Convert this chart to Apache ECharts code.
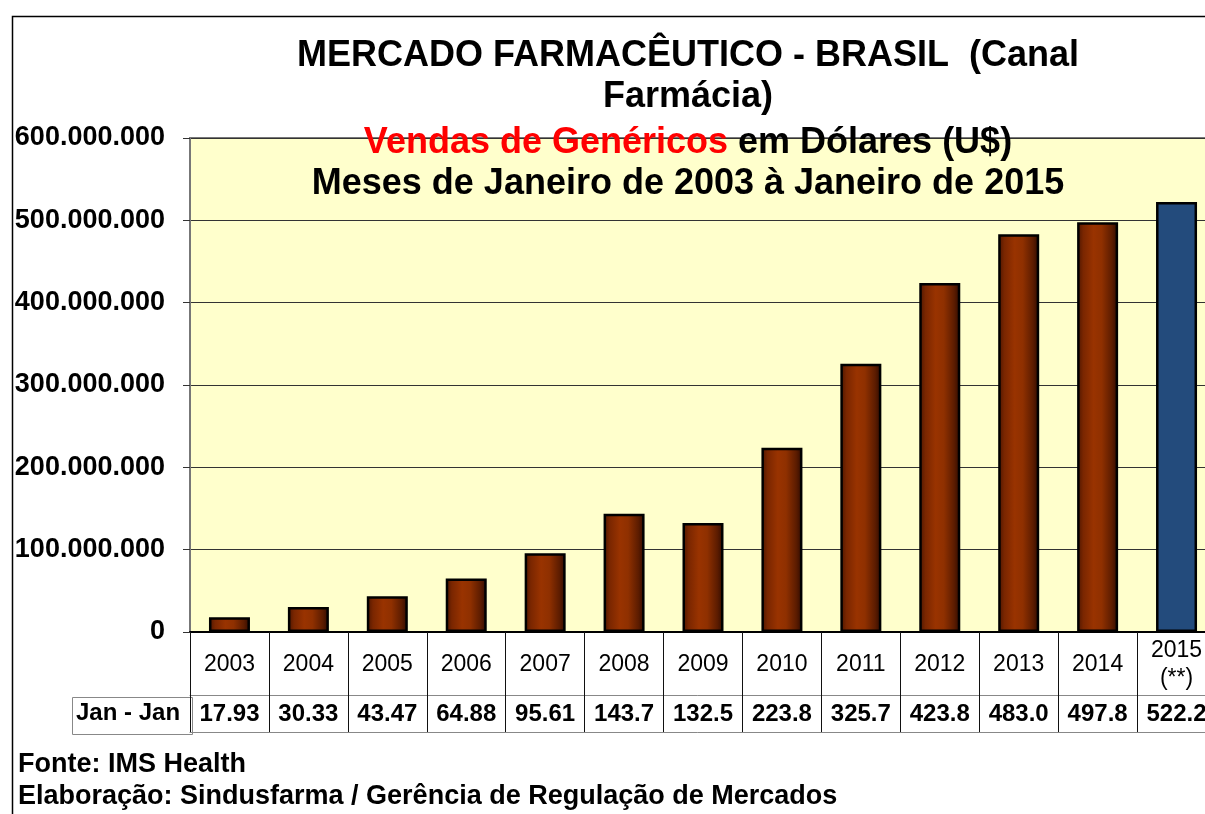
<!DOCTYPE html>
<html>
<head>
<meta charset="utf-8">
<script src="https://cdn.jsdelivr.net/npm/echarts@6/dist/echarts.min.js"></script>
<style>
  html, body { margin: 0; padding: 0; background: #fff; }
  #root { width: 1205px; height: 814px; }
</style>
</head>
<body>
<div id="root"></div>
<script>
// data (sales in millions of US$)
const years = ['2003', '2004', '2005', '2006', '2007', '2008', '2009', '2010', '2011', '2012', '2013', '2014', '2015\n(**)']
const sales = [17.93, 30.33, 43.47, 64.88, 95.61, 143.7, 132.5, 223.8, 325.7, 423.8, 483.0, 497.8, 522.2]
const tableLabels = ['17.93', '30.33', '43.47', '64.88', '95.61', '143.7', '132.5', '223.8', '325.7', '423.8', '483.0', '497.8', '522.2']
const yTickLabels = ['0', '100.000.000', '200.000.000', '300.000.000', '400.000.000', '500.000.000', '600.000.000']
const projectedIndex = 12

const FONT = '"Liberation Sans", Arial, sans-serif'

const brown = new echarts.graphic.LinearGradient(0, 0, 1, 0, [
  { offset: 0, color: '#4a1500' },
  { offset: 0.15, color: '#7a2600' },
  { offset: 0.4, color: '#993300' },
  { offset: 0.6, color: '#8f3000' },
  { offset: 0.85, color: '#5c1c00' },
  { offset: 1, color: '#2e0a00' }
])

const barData = sales.map((v, i) => i === projectedIndex
  ? { value: v, itemStyle: { color: '#234B7C' } }
  : v)

const chart = echarts.init(document.getElementById('root'))

chart.setOption({
  animation: false,
  textStyle: { fontFamily: FONT },
  title: [
    {
      text: 'MERCADO FARMACÊUTICO - BRASIL  (Canal\nFarmácia)',
      left: 688,
      top: 36,
      textAlign: 'center',
      padding: 0,
      textStyle: { fontFamily: FONT, fontSize: 36, fontWeight: 'bold', color: '#000', lineHeight: 41 }
    },
    {
      text: '{r|Vendas de Genéricos}{b| em Dólares (U$)}\n{b|Meses de Janeiro de 2003 à Janeiro de 2015}',
      left: 688,
      top: 123,
      textAlign: 'center',
      padding: 0,
      textStyle: {
        rich: {
          r: { fontFamily: FONT, fontSize: 36, fontWeight: 'bold', color: '#ff0000', lineHeight: 41 },
          b: { fontFamily: FONT, fontSize: 36, fontWeight: 'bold', color: '#000', lineHeight: 41 }
        }
      }
    },
    {
      text: 'Fonte: IMS Health',
      left: 18,
      top: 751,
      padding: 0,
      textStyle: { fontFamily: FONT, fontSize: 27, fontWeight: 'bold', color: '#000' }
    },
    {
      text: 'Elaboração: Sindusfarma / Gerência de Regulação de Mercados',
      left: 18,
      top: 783,
      padding: 0,
      textStyle: { fontFamily: FONT, fontSize: 27, fontWeight: 'bold', color: '#000' }
    }
  ],
  grid: {
    left: 190,
    top: 138,
    width: 1026,
    height: 494,
    outerBoundsMode: 'none',
    show: true,
    backgroundColor: '#FFFFCC',
    borderColor: '#777',
    borderWidth: 2
  },
  xAxis: [
    {
      type: 'category',
      data: years,
      position: 'bottom',
      axisLine: { lineStyle: { color: '#000', width: 2 } },
      axisTick: { show: true, interval: 0, length: 100, lineStyle: { color: '#111', width: 1 } },
      axisLabel: {
        interval: 0,
        margin: 33,
        verticalAlign: 'middle',
        lineHeight: 28,
        fontFamily: FONT,
        fontSize: 23,
        color: '#000'
      }
    },
    {
      type: 'category',
      data: years,
      position: 'bottom',
      offset: 63,
      axisLine: { lineStyle: { color: '#888', width: 1 } },
      axisTick: { show: false },
      axisLabel: {
        interval: 0,
        margin: 19,
        verticalAlign: 'middle',
        fontFamily: FONT,
        fontSize: 24,
        fontWeight: 'bold',
        color: '#000',
        formatter: (v, i) => tableLabels[i]
      }
    },
    {
      type: 'category',
      data: years,
      position: 'bottom',
      offset: 100,
      axisLine: { lineStyle: { color: '#888', width: 1 } },
      axisTick: { show: false },
      axisLabel: { show: false }
    }
  ],
  yAxis: {
    type: 'value',
    min: 0,
    max: 600,
    interval: 100,
    axisLine: { show: true, lineStyle: { color: '#777', width: 2 } },
    axisTick: { show: true, length: 7, lineStyle: { color: '#333' } },
    axisLabel: {
      margin: 25,
      fontFamily: FONT,
      fontSize: 27,
      fontWeight: 'bold',
      color: '#000',
      formatter: v => yTickLabels[Math.round(v / 100)]
    },
    splitLine: { lineStyle: { color: '#333', width: 1 } }
  },
  series: [
    {
      type: 'bar',
      data: barData,
      barWidth: 41,
      itemStyle: { color: brown, borderColor: '#000', borderWidth: 2.5 }
    }
  ],
  graphic: [
    {
      type: 'rect',
      left: 10,
      top: 14,
      shape: { width: 1400, height: 1000 },
      style: { fill: 'none', stroke: '#000', lineWidth: 1.5 },
      silent: true
    },
    {
      type: 'rect',
      left: 70,
      top: 695,
      shape: { width: 120, height: 37 },
      style: { fill: 'none', stroke: '#888', lineWidth: 1 },
      silent: true
    },
    {
      type: 'text',
      left: 76,
      top: 701,
      style: { text: 'Jan - Jan', fontFamily: FONT, fontSize: 24, fontWeight: 'bold', fill: '#000' },
      silent: true
    }
  ]
})
</script>
</body>
</html>
